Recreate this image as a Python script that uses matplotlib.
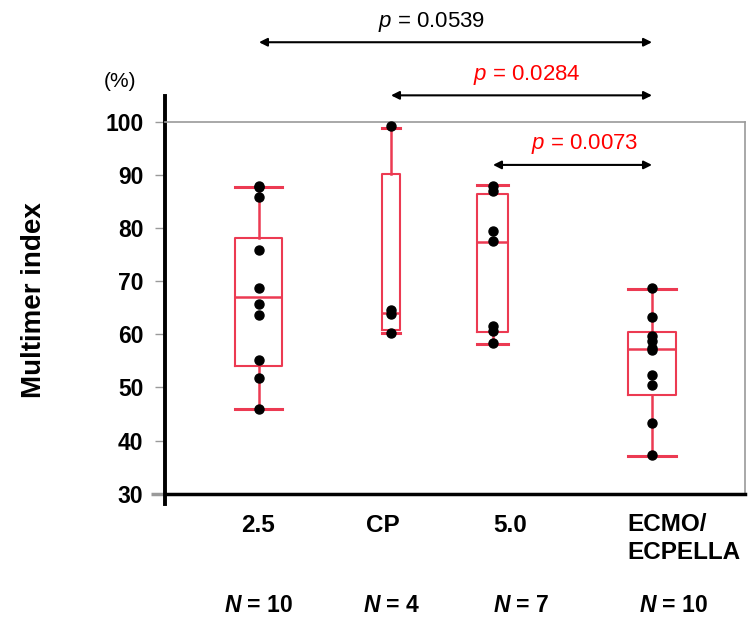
import matplotlib.pyplot as plt

plt.rcParams['font.family'] = ['Liberation Sans', 'DejaVu Sans']
plt.rcParams['mathtext.fontset'] = 'custom'
plt.rcParams['mathtext.it'] = 'Liberation Sans:italic'
plt.rcParams['mathtext.bf'] = 'Liberation Sans:italic:bold'
plt.rcParams['mathtext.rm'] = 'Liberation Sans'

# groups and x positions along the axis
groups = ['2.5', 'CP', '5.0', 'ECMO/\nECPELLA']
n_counts = [10, 4, 7, 10]
positions = [0.94, 2.26, 3.28, 4.87]
widths = [0.47, 0.18, 0.31, 0.48]
label_x = [0.93, 2.18, 3.45, 4.62]
n_x = [0.94, 2.27, 3.56, 5.09]

# individual points (%)
pts_25 = [88.0, 87.7, 85.9, 75.9, 68.7, 65.7, 63.7, 55.1, 51.7, 46.0]
pts_cp = [99.2, 64.6, 63.9, 60.2]
pts_50 = [88.0, 87.0, 79.5, 77.5, 61.5, 60.7, 58.4]
pts_ecmo = [68.7, 63.2, 59.6, 58.8, 57.4, 57.0, 52.4, 50.5, 43.3, 37.3]

# box stats: whislo, q1, med, q3, whishi
box_lo = [45.9, 60.2, 58.2, 37.1]
box_q1 = [54.1, 60.8, 60.4, 48.5]
box_med = [67.1, 64.0, 77.4, 57.2]
box_q3 = [78.2, 90.2, 86.4, 60.5]
box_hi = [87.8, 98.9, 88.1, 68.6]

# comparisons vs ECMO/ECPELLA
comp_from = [0, 1, 2]
p_labels = ['0.0539', '0.0284', '0.0073']
p_colors = ['black', 'red', 'red']
arrow_y = [115.0, 105.0, 91.9]
p_text_x = [2.67, 3.62, 4.20]

red = '#EC3A52'

fig = plt.figure(figsize=(7.52, 6.18), dpi=100)
ax = fig.add_axes([0.2194, 0.184, 0.7713, 0.660])

for i in range(len(groups)):
    st = dict(whislo=box_lo[i], q1=box_q1[i], med=box_med[i],
              q3=box_q3[i], whishi=box_hi[i], fliers=[])
    ax.bxp([st], positions=[positions[i]], widths=[widths[i]],
           showfliers=False, manage_ticks=False,
           boxprops=dict(color=red, lw=1.5),
           whiskerprops=dict(color=red, lw=1.8),
           capprops=dict(color=red, lw=2.2),
           medianprops=dict(color=red, lw=1.8),
           capwidths=[widths[i]])

all_pts = [pts_25, pts_cp, pts_50, pts_ecmo]
for i, pts in enumerate(all_pts):
    ax.plot([positions[i]] * len(pts), pts, 'o', color='black', ms=6.5,
            zorder=5, clip_on=False)

ax.set_xlim(0, 5.8)
ax.set_ylim(28, 104.8)

ax.spines['left'].set_linewidth(2.8)
ax.spines['bottom'].set_position(('data', 30))
ax.spines['bottom'].set_linewidth(2.5)
ax.spines['top'].set_position(('data', 100))
ax.spines['top'].set_color('#9a9a9a')
ax.spines['top'].set_linewidth(1.2)
ax.spines['right'].set_bounds(30, 100)
ax.spines['right'].set_color('#9a9a9a')
ax.spines['right'].set_linewidth(1.2)

ax.set_yticks(range(30, 101, 10))
ax.tick_params(axis='y', length=7.5, width=1.0, color='#9a9a9a', pad=8,
               labelsize=16.5)
for lab in ax.get_yticklabels():
    lab.set_fontweight('bold')
# the 30 tick is black and heavy, like the bottom axis
t30 = ax.yaxis.get_major_ticks()[0]
t30.tick1line.set_color('black')
t30.tick1line.set_markeredgewidth(2.5)
t30.tick1line.set_markersize(10)
ax.set_xticks([])

ax.set_ylabel('Multimer index', fontsize=20, fontweight='bold')
ax.yaxis.set_label_coords(-0.203, 0.5)
ax.text(-0.45, 107.6, '(%)', fontsize=15, ha='center', va='center')

# category labels
for i, g in enumerate(groups):
    if '\n' in g:
        ax.text(label_x[i], 21.6, g, fontsize=17.5, fontweight='bold',
                ha='left', va='center', linespacing=1.3, clip_on=False)
    else:
        ax.text(label_x[i], 24.0, g, fontsize=17.5, fontweight='bold',
                ha='center', va='center', clip_on=False)
    ax.text(n_x[i], 9.0, r'$\mathbf{N}$ = %d' % n_counts[i], fontsize=16.5,
            fontweight='bold', ha='center', va='center', clip_on=False)

# significance arrows
for k in range(len(comp_from)):
    x0 = positions[comp_from[k]]
    x1 = positions[3]
    ax.annotate('', xy=(x0, arrow_y[k]), xytext=(x1, arrow_y[k]),
                arrowprops=dict(arrowstyle='<|-|>', color='black', lw=1.5,
                                mutation_scale=12, shrinkA=0, shrinkB=0),
                annotation_clip=False)
    ax.text(p_text_x[k], arrow_y[k] + 3.9, r'$p$ = ' + p_labels[k],
            fontsize=16, color=p_colors[k], ha='center', va='center',
            clip_on=False)

fig.savefig('out.png', dpi=100)
